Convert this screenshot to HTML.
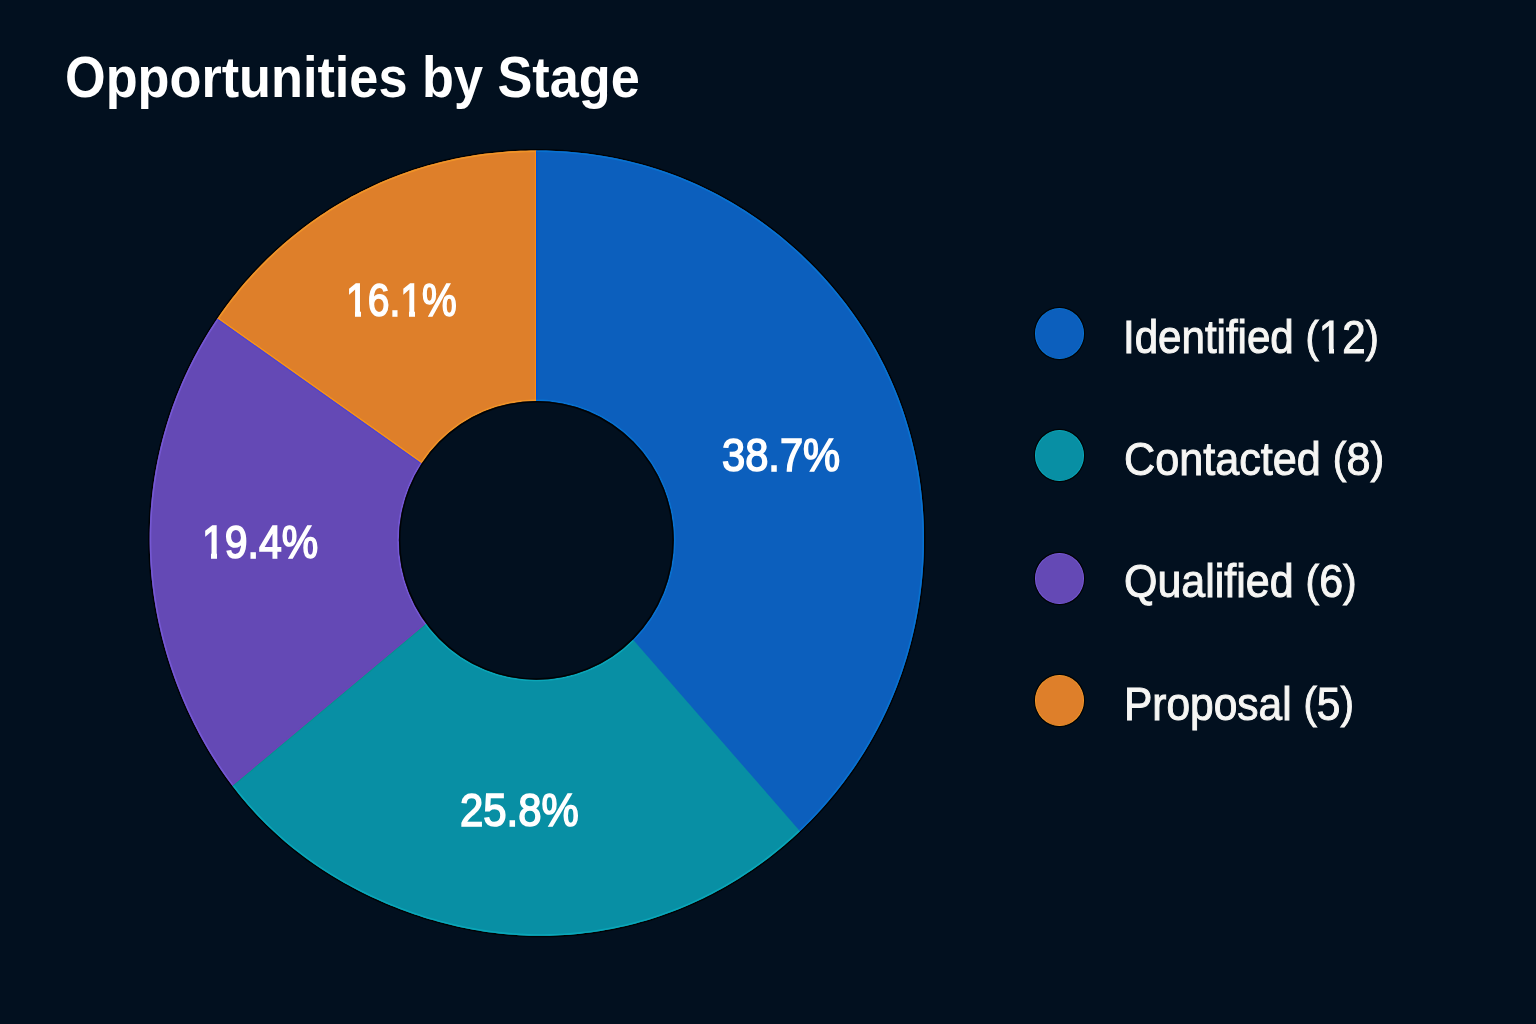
<!DOCTYPE html>
<html>
<head>
<meta charset="utf-8">
<title>Opportunities by Stage</title>
<style>
html,body{margin:0;padding:0;}
body{width:1536px;height:1024px;overflow:hidden;background:#02101f;position:relative;font-family:"Liberation Sans",sans-serif;}
svg{position:absolute;left:0;top:0;}
.t{position:absolute;white-space:nowrap;color:#fff;line-height:1;transform-origin:0 0;text-shadow:0 0 1.2px rgba(0,0,0,0.45);}
.b{font-weight:bold;}
.pct{-webkit-text-stroke:1.6px #fff;}
.leg{color:#f6f6f4;-webkit-text-stroke:1.0px #f6f6f4;}
.dot{position:absolute;border-radius:50%;box-sizing:border-box;}
.one{display:inline-block;-webkit-mask-image:linear-gradient(to bottom,#000 72.3%,transparent 72.3%),linear-gradient(to right,transparent 41.3%,#000 41.3%,#000 67.2%,transparent 67.2%);mask-image:linear-gradient(to bottom,#000 72.3%,transparent 72.3%),linear-gradient(to right,transparent 41.3%,#000 41.3%,#000 67.2%,transparent 67.2%);}
.par{display:inline-block;font-size:0.95em;position:relative;top:-1.5px;}
.onep{display:inline-block;-webkit-mask-image:linear-gradient(to bottom,#000 74.3%,transparent 74.3%),linear-gradient(to right,transparent 40.2%,#000 40.2%,#000 66.3%,transparent 66.3%);mask-image:linear-gradient(to bottom,#000 74.3%,transparent 74.3%),linear-gradient(to right,transparent 40.2%,#000 40.2%,#000 66.3%,transparent 66.3%);}
.oner{display:inline-block;-webkit-mask-image:linear-gradient(to bottom,#000 75.3%,transparent 75.3%),linear-gradient(to right,transparent 41.6%,#000 41.6%,#000 64.8%,transparent 64.8%);mask-image:linear-gradient(to bottom,#000 75.3%,transparent 75.3%),linear-gradient(to right,transparent 41.6%,#000 41.6%,#000 64.8%,transparent 64.8%);}
</style>
</head>
<body>
<svg width="1536" height="1024" viewBox="0 0 1536 1024">
 <polygon fill="none" stroke="#000000" stroke-width="3" stroke-opacity="0.85" points="536.85,150.50 541.92,150.53 546.99,150.63 552.06,150.79 557.12,151.01 562.19,151.29 567.25,151.64 572.30,152.06 577.35,152.53 582.40,153.07 587.43,153.68 592.46,154.35 597.49,155.08 602.50,155.88 607.50,156.74 612.49,157.67 617.47,158.67 622.44,159.72 627.40,160.85 632.34,162.04 637.26,163.30 642.17,164.62 647.06,166.01 651.94,167.46 656.79,168.98 661.63,170.56 666.44,172.21 671.23,173.93 676.00,175.71 680.75,177.56 685.47,179.47 690.17,181.45 694.83,183.49 699.47,185.60 704.09,187.77 708.67,190.00 713.22,192.30 717.74,194.66 722.24,197.08 726.69,199.56 731.12,202.10 735.51,204.70 739.87,207.36 744.19,210.08 748.48,212.85 752.73,215.69 756.94,218.58 761.11,221.52 765.25,224.52 769.35,227.58 773.40,230.69 777.42,233.85 781.40,237.07 785.33,240.33 789.23,243.65 793.08,247.02 796.88,250.44 800.65,253.91 804.37,257.43 808.04,260.99 811.67,264.61 815.26,268.27 818.80,271.97 822.29,275.72 825.73,279.52 829.13,283.36 832.48,287.25 835.77,291.18 839.02,295.15 842.22,299.17 845.36,303.23 848.45,307.33 851.49,311.47 854.47,315.66 857.40,319.88 860.27,324.14 863.08,328.44 865.84,332.78 868.54,337.16 871.19,341.57 873.77,346.02 876.29,350.50 878.75,355.02 881.16,359.57 883.50,364.16 885.77,368.78 887.99,373.42 890.14,378.10 892.22,382.81 894.24,387.55 896.20,392.32 898.08,397.11 899.91,401.93 901.66,406.77 903.35,411.64 904.97,416.53 906.53,421.44 908.02,426.37 909.44,431.32 910.79,436.29 912.08,441.28 913.30,446.28 914.46,451.30 915.54,456.33 916.56,461.38 917.52,466.44 918.41,471.51 919.23,476.59 919.99,481.68 920.68,486.78 921.30,491.89 921.86,497.00 922.36,502.12 922.79,507.25 923.15,512.38 923.46,517.51 923.69,522.65 923.86,527.78 923.97,532.92 924.02,538.06 924.00,543.20 923.92,548.34 923.78,553.47 923.57,558.60 923.30,563.73 922.97,568.86 922.57,573.98 922.11,579.09 921.59,584.20 921.00,589.30 920.35,594.39 919.64,599.47 918.86,604.54 918.03,609.60 917.12,614.66 916.16,619.69 915.13,624.72 914.04,629.73 912.88,634.73 911.67,639.71 910.39,644.68 909.04,649.62 907.64,654.55 906.17,659.47 904.64,664.36 903.05,669.23 901.39,674.08 899.68,678.91 897.90,683.71 896.06,688.49 894.16,693.25 892.20,697.98 890.18,702.69 888.09,707.37 885.95,712.02 883.75,716.64 881.49,721.23 879.16,725.79 876.79,730.33 874.35,734.82 871.85,739.29 869.30,743.73 866.69,748.13 864.03,752.49 861.31,756.82 858.53,761.12 855.70,765.37 852.82,769.59 849.88,773.78 846.89,777.92 843.84,782.02 840.75,786.09 837.60,790.11 834.40,794.09 831.15,798.03 827.84,801.92 824.49,805.78 821.09,809.58 817.65,813.35 814.15,817.07 810.61,820.74 807.02,824.37 803.38,827.94 799.70,831.48 795.97,834.96 792.20,838.39 788.38,841.77 784.52,845.11 780.62,848.39 776.68,851.62 772.69,854.80 768.67,857.92 764.60,861.00 760.49,864.01 756.35,866.98 752.16,869.88 747.94,872.73 743.68,875.53 739.39,878.27 735.06,880.95 730.69,883.57 726.29,886.13 721.86,888.64 717.39,891.08 712.89,893.46 708.36,895.79 703.80,898.05 699.21,900.25 694.60,902.38 689.95,904.46 685.28,906.47 680.58,908.42 675.85,910.30 671.10,912.12 666.33,913.87 661.53,915.56 656.71,917.18 651.87,918.74 647.01,920.23 642.14,921.65 637.24,923.01 632.32,924.30 627.39,925.52 622.44,926.68 617.48,927.77 612.51,928.79 607.52,929.74 602.52,930.62 597.50,931.43 592.48,932.18 587.45,932.86 582.41,933.46 577.37,934.00 572.31,934.47 567.26,934.87 562.19,935.20 557.13,935.46 552.06,935.65 546.99,935.77 541.92,935.82 536.85,935.80 531.78,935.71 526.72,935.55 521.65,935.33 516.60,935.03 511.54,934.67 506.49,934.23 501.45,933.74 496.42,933.17 491.40,932.54 486.38,931.84 481.38,931.07 476.39,930.24 471.40,929.35 466.44,928.39 461.48,927.37 456.54,926.29 451.61,925.14 446.70,923.93 441.80,922.66 436.92,921.33 432.06,919.93 427.21,918.48 422.38,916.97 417.57,915.40 412.78,913.77 408.01,912.08 403.26,910.34 398.53,908.53 393.83,906.68 389.14,904.76 384.47,902.79 379.83,900.77 375.21,898.69 370.62,896.55 366.05,894.36 361.51,892.11 356.99,889.80 352.50,887.44 348.04,885.02 343.61,882.54 339.21,880.01 334.84,877.42 330.50,874.77 326.20,872.06 321.93,869.30 317.70,866.48 313.51,863.60 309.35,860.66 305.23,857.67 301.15,854.62 297.11,851.51 293.11,848.35 289.16,845.12 285.25,841.85 281.39,838.51 277.58,835.13 273.81,831.68 270.09,828.18 266.42,824.63 262.81,821.02 259.25,817.36 255.74,813.64 252.28,809.88 248.88,806.06 245.54,802.20 242.25,798.29 239.01,794.33 235.83,790.33 232.71,786.28 229.64,782.19 226.63,778.05 223.67,773.88 220.78,769.67 217.94,765.42 215.15,761.13 212.42,756.80 209.75,752.44 207.14,748.05 204.58,743.62 202.08,739.16 199.64,734.67 197.25,730.14 194.92,725.59 192.65,721.01 190.43,716.41 188.27,711.77 186.17,707.11 184.12,702.43 182.13,697.72 180.19,692.99 178.31,688.23 176.48,683.46 174.71,678.66 172.99,673.84 171.33,669.00 169.73,664.14 168.19,659.26 166.71,654.37 165.28,649.45 163.92,644.52 162.61,639.57 161.36,634.60 160.18,629.62 159.05,624.62 157.99,619.61 156.99,614.58 156.05,609.54 155.17,604.49 154.36,599.43 153.61,594.35 152.93,589.27 152.31,584.18 151.75,579.08 151.26,573.97 150.83,568.85 150.47,563.73 150.18,558.60 149.95,553.47 149.79,548.34 149.70,543.20 149.67,538.06 149.72,532.92 149.83,527.78 150.00,522.65 150.25,517.51 150.56,512.38 150.94,507.25 151.39,502.13 151.90,497.01 152.48,491.90 153.13,486.80 153.84,481.70 154.63,476.62 155.47,471.54 156.39,466.48 157.37,461.43 158.42,456.39 159.53,451.37 160.71,446.36 161.96,441.37 163.27,436.39 164.64,431.43 166.09,426.49 167.59,421.57 169.16,416.67 170.79,411.79 172.49,406.94 174.25,402.10 176.08,397.29 177.97,392.51 179.92,387.74 181.93,383.01 184.00,378.30 186.14,373.62 188.34,368.97 190.59,364.35 192.91,359.76 195.29,355.21 197.73,350.68 200.23,346.19 202.78,341.73 205.39,337.30 208.07,332.91 210.79,328.55 213.58,324.24 216.42,319.96 219.32,315.72 222.27,311.51 225.28,307.35 228.34,303.23 231.45,299.15 234.62,295.11 237.84,291.11 241.12,287.16 244.44,283.25 247.82,279.39 251.24,275.57 254.72,271.80 258.24,268.07 261.81,264.40 265.43,260.77 269.10,257.19 272.81,253.66 276.57,250.17 280.38,246.74 284.23,243.37 288.12,240.04 292.06,236.77 296.03,233.55 300.06,230.38 304.12,227.27 308.22,224.21 312.36,221.21 316.55,218.27 320.77,215.38 325.02,212.55 329.32,209.78 333.65,207.07 338.02,204.41 342.42,201.82 346.85,199.29 351.32,196.81 355.82,194.40 360.35,192.06 364.91,189.77 369.51,187.54 374.13,185.38 378.77,183.29 383.45,181.25 388.15,179.29 392.88,177.38 397.63,175.55 402.41,173.77 407.20,172.07 412.02,170.42 416.86,168.85 421.72,167.33 426.60,165.89 431.50,164.51 436.41,163.19 441.34,161.94 446.28,160.76 451.24,159.64 456.21,158.59 461.19,157.60 466.19,156.68 471.19,155.82 476.20,155.02 481.23,154.30 486.26,153.63 491.30,153.03 496.34,152.50 501.40,152.02 506.45,151.62 511.51,151.27 516.58,150.99 521.64,150.78 526.71,150.62 531.78,150.53"/>
 <polygon fill="#0c5fbd" points="535.55,476.35 535.55,150.50 540.66,150.52 545.76,150.60 550.87,150.75 555.97,150.95 561.08,151.23 566.17,151.56 571.27,151.97 576.36,152.43 581.44,152.96 586.51,153.56 591.58,154.22 596.64,154.95 601.70,155.75 606.74,156.61 611.77,157.53 616.79,158.52 621.79,159.58 626.79,160.71 631.76,161.90 636.73,163.16 641.67,164.48 646.60,165.87 651.52,167.33 656.41,168.86 661.28,170.45 666.13,172.10 670.96,173.83 675.77,175.62 680.55,177.48 685.30,179.40 690.04,181.39 694.74,183.45 699.41,185.57 704.06,187.76 708.68,190.01 713.26,192.32 717.82,194.70 722.34,197.14 726.83,199.64 731.29,202.20 735.71,204.82 740.10,207.50 744.45,210.24 748.77,213.04 753.05,215.90 757.29,218.82 761.49,221.79 765.65,224.82 769.77,227.90 773.86,231.04 777.90,234.23 781.90,237.48 785.86,240.78 789.77,244.13 793.65,247.53 797.48,250.98 801.26,254.48 805.00,258.04 808.70,261.64 812.34,265.28 815.95,268.98 819.50,272.72 823.01,276.51 826.47,280.35 829.88,284.23 833.24,288.15 836.55,292.12 839.81,296.13 843.01,300.19 846.17,304.29 849.27,308.43 852.31,312.62 855.30,316.84 858.23,321.11 861.11,325.41 863.93,329.76 866.69,334.14 869.39,338.56 872.03,343.02 874.62,347.51 877.14,352.04 879.60,356.60 882.00,361.20 884.33,365.83 886.60,370.49 888.81,375.19 890.95,379.91 893.02,384.67 895.03,389.45 896.97,394.26 898.85,399.10 900.66,403.97 902.39,408.86 904.07,413.77 905.67,418.71 907.21,423.66 908.68,428.64 910.08,433.64 911.41,438.65 912.68,443.68 913.87,448.73 915.00,453.79 916.07,458.87 917.06,463.96 917.99,469.06 918.85,474.18 919.64,479.30 920.37,484.43 921.03,489.58 921.62,494.72 922.15,499.88 922.61,505.04 923.01,510.21 923.34,515.38 923.60,520.55 923.80,525.72 923.94,530.90 924.01,536.08 924.01,541.25 923.96,546.43 923.84,551.60 923.65,556.77 923.40,561.94 923.09,567.11 922.71,572.26 922.27,577.42 921.76,582.56 921.19,587.70 920.56,592.84 919.86,597.96 919.10,603.07 918.27,608.17 917.38,613.26 916.42,618.34 915.41,623.41 914.32,628.46 913.17,633.50 911.96,638.52 910.69,643.53 909.35,648.52 907.95,653.49 906.48,658.44 904.96,663.37 903.36,668.28 901.71,673.17 899.99,678.04 898.21,682.89 896.37,687.71 894.46,692.50 892.50,697.27 890.47,702.02 888.38,706.73 886.23,711.42 884.02,716.08 881.74,720.71 879.41,725.31 877.02,729.88 874.57,734.42 872.07,738.92 869.50,743.39 866.88,747.82 864.20,752.22 861.46,756.59 858.67,760.92 855.82,765.21 852.91,769.46 849.95,773.67 846.94,777.85 843.87,781.98 840.75,786.07 837.58,790.13 834.36,794.14 831.08,798.10 827.76,802.03 824.38,805.91 820.95,809.74 817.48,813.53 813.95,817.27 810.38,820.97 806.76,824.62 803.09,828.22 799.38,831.78 583.42,584.04 536.35,540.35"/>
 <polygon fill="#088fa4" points="584.10,583.44 800.03,831.16 796.27,834.68 792.46,838.15 788.61,841.57 784.72,844.95 780.77,848.26 776.79,851.53 772.76,854.74 768.70,857.90 764.59,861.00 760.44,864.05 756.25,867.05 752.02,869.98 747.75,872.86 743.45,875.68 739.10,878.44 734.72,881.15 730.31,883.79 725.86,886.38 721.38,888.90 716.86,891.36 712.31,893.76 707.73,896.10 703.12,898.38 698.48,900.59 693.81,902.74 689.11,904.83 684.38,906.85 679.63,908.80 674.85,910.69 670.04,912.51 665.21,914.27 660.36,915.96 655.49,917.58 650.59,919.14 645.67,920.63 640.74,922.05 635.79,923.40 630.81,924.68 625.83,925.90 620.82,927.04 615.80,928.12 610.77,929.12 605.73,930.06 600.67,930.93 595.60,931.72 590.52,932.45 585.44,933.11 580.34,933.69 575.24,934.21 570.13,934.65 565.02,935.02 559.90,935.32 554.78,935.55 549.66,935.71 544.54,935.80 539.41,935.82 534.29,935.76 529.17,935.64 524.05,935.44 518.94,935.18 513.83,934.84 508.73,934.43 503.63,933.96 498.54,933.42 493.46,932.80 488.39,932.13 483.33,931.38 478.28,930.57 473.25,929.69 468.22,928.74 463.21,927.73 458.21,926.66 453.22,925.52 448.25,924.32 443.30,923.05 438.37,921.73 433.45,920.34 428.54,918.89 423.66,917.38 418.80,915.80 413.95,914.17 409.13,912.48 404.32,910.73 399.54,908.92 394.78,907.06 390.04,905.13 385.32,903.15 380.63,901.12 375.95,899.03 371.31,896.88 366.69,894.67 362.09,892.40 357.53,890.08 352.99,887.70 348.48,885.26 344.00,882.76 339.55,880.21 335.13,877.59 330.75,874.92 326.40,872.19 322.08,869.39 317.81,866.55 313.57,863.64 309.36,860.67 305.20,857.65 301.08,854.56 297.00,851.42 292.96,848.22 288.97,844.97 285.02,841.65 281.13,838.28 277.27,834.85 273.47,831.37 269.72,827.83 266.02,824.23 262.37,820.58 258.78,816.87 255.24,813.11 251.76,809.30 248.33,805.44 244.96,801.52 241.65,797.56 238.39,793.55 235.19,789.50 232.04,785.40 482.75,575.60 536.35,540.35"/>
 <polygon fill="#6449b5" points="483.33,576.30 232.59,786.12 229.48,781.96 226.42,777.77 223.43,773.53 220.49,769.25 217.62,764.93 214.80,760.57 212.04,756.18 209.34,751.75 206.69,747.28 204.11,742.78 201.59,738.25 199.12,733.69 196.71,729.09 194.36,724.47 192.07,719.81 189.83,715.13 187.66,710.42 185.54,705.68 183.48,700.92 181.47,696.14 179.52,691.33 177.63,686.49 175.80,681.64 174.02,676.76 172.31,671.86 170.65,666.94 169.05,662.01 167.51,657.05 166.03,652.07 164.62,647.07 163.26,642.06 161.96,637.02 160.73,631.97 159.56,626.91 158.45,621.83 157.41,616.74 156.43,611.63 155.52,606.51 154.67,601.37 153.88,596.23 153.16,591.08 152.51,585.91 151.92,580.74 151.40,575.55 150.95,570.36 150.57,565.17 150.25,559.97 150.00,554.76 149.82,549.55 149.71,544.34 149.67,539.13 149.70,533.91 149.80,528.70 149.97,523.48 150.21,518.27 150.51,513.06 150.89,507.86 151.34,502.66 151.85,497.47 152.44,492.28 153.09,487.10 153.81,481.93 154.60,476.77 155.46,471.62 156.39,466.48 157.39,461.36 158.45,456.24 159.58,451.15 160.78,446.07 162.05,441.00 163.39,435.95 164.79,430.92 166.26,425.91 167.80,420.92 169.40,415.95 171.07,411.00 172.80,406.08 174.60,401.18 176.46,396.30 178.39,391.45 180.39,386.62 182.44,381.83 184.57,377.06 186.75,372.32 189.00,367.61 191.31,362.93 193.68,358.28 196.11,353.67 198.61,349.08 201.16,344.54 203.78,340.02 206.45,335.55 209.19,331.11 211.98,326.70 214.83,322.34 217.75,317.99 482.94,506.06 536.35,540.35"/>
 <polygon fill="#de7f2a" points="482.42,506.80 217.25,318.74 220.21,314.43 223.25,310.14 226.35,305.90 229.50,301.70 232.70,297.54 235.97,293.43 239.28,289.36 242.65,285.34 246.08,281.36 249.56,277.44 253.09,273.56 256.67,269.72 260.30,265.94 263.98,262.21 267.71,258.53 271.49,254.90 275.32,251.32 279.20,247.80 283.12,244.32 287.09,240.91 291.11,237.55 295.17,234.24 299.27,230.99 303.42,227.80 307.61,224.66 311.84,221.59 316.11,218.57 320.43,215.61 324.78,212.71 329.17,209.87 333.60,207.10 338.06,204.39 342.57,201.73 347.10,199.15 351.67,196.62 356.28,194.16 360.92,191.77 365.59,189.44 370.29,187.17 375.02,184.97 379.78,182.84 384.57,180.78 389.38,178.78 394.23,176.86 399.09,174.99 403.98,173.20 408.90,171.48 413.84,169.82 418.79,168.24 423.77,166.72 428.77,165.27 433.78,163.89 438.82,162.58 443.86,161.33 448.93,160.15 454.00,159.05 459.10,158.01 464.20,157.04 469.31,156.13 474.44,155.30 479.57,154.53 484.72,153.83 489.87,153.20 495.03,152.63 500.19,152.13 505.36,151.70 510.54,151.33 515.71,151.04 520.90,150.80 526.08,150.64 531.26,150.54 536.45,150.50 536.45,476.35 536.35,540.35"/>
 <polyline fill="none" stroke="#0872d0" stroke-width="1.6" points="536.00,151.30 541.09,151.32 546.19,151.41 551.28,151.56 556.36,151.77 561.45,152.05 566.53,152.39 571.61,152.80 576.68,153.27 581.75,153.80 586.81,154.40 591.86,155.07 596.90,155.80 601.94,156.60 606.97,157.46 611.98,158.39 616.98,159.38 621.97,160.44 626.95,161.57 631.91,162.76 636.86,164.02 641.79,165.34 646.70,166.73 651.60,168.19 656.47,169.72 661.33,171.31 666.17,172.96 670.98,174.69 675.77,176.48 680.53,178.33 685.28,180.26 689.99,182.24 694.68,184.30 699.34,186.42 703.97,188.60 708.57,190.85 713.14,193.16 717.68,195.53 722.19,197.96 726.66,200.46 731.10,203.02 735.51,205.63 739.88,208.31 744.22,211.05 748.52,213.84 752.79,216.69 757.01,219.60 761.20,222.57 765.35,225.59 769.46,228.67 773.53,231.80 777.56,234.98 781.54,238.22 785.49,241.51 789.39,244.85 793.25,248.25 797.07,251.69 800.84,255.18 804.56,258.73 808.25,262.32 811.88,265.96 815.47,269.64 819.02,273.37 822.51,277.15 825.96,280.98 829.36,284.85 832.71,288.76 836.01,292.72 839.25,296.72 842.45,300.77 845.59,304.86 848.68,308.99 851.71,313.16 854.69,317.37 857.62,321.62 860.48,325.92 863.29,330.25 866.05,334.62 868.74,339.03 871.37,343.47 873.95,347.95 876.46,352.47 878.91,357.02 881.30,361.60 883.63,366.22 885.89,370.87 888.09,375.55 890.23,380.26 892.29,385.00 894.30,389.77 896.23,394.57 898.10,399.39 899.90,404.24 901.64,409.12 903.31,414.02 904.91,418.94 906.44,423.88 907.90,428.84 909.30,433.82 910.63,438.82 911.89,443.84 913.08,448.87 914.21,453.92 915.27,458.98 916.26,464.06 917.19,469.14 918.05,474.24 918.84,479.35 919.57,484.47 920.23,489.60 920.82,494.73 921.35,499.87 921.81,505.01 922.20,510.16 922.53,515.32 922.80,520.48 923.00,525.64 923.14,530.80 923.21,535.96 923.21,541.12 923.16,546.28 923.04,551.44 922.86,556.59 922.61,561.75 922.30,566.89 921.92,572.04 921.49,577.18 920.98,582.31 920.42,587.43 919.79,592.55 919.09,597.66 918.34,602.75 917.51,607.84 916.63,612.92 915.68,617.98 914.67,623.03 913.59,628.07 912.45,633.10 911.24,638.10 909.98,643.10 908.64,648.07 907.25,653.03 905.79,657.97 904.27,662.88 902.69,667.78 901.04,672.66 899.33,677.51 897.56,682.35 895.73,687.15 893.83,691.94 891.87,696.69 889.85,701.43 887.77,706.13 885.63,710.81 883.43,715.45 881.17,720.07 878.85,724.66 876.47,729.21 874.03,733.74 871.54,738.23 868.98,742.69 866.37,747.11 863.70,751.50 860.98,755.86 858.20,760.17 855.36,764.45 852.47,768.70 849.52,772.90 846.52,777.06 843.47,781.19 840.36,785.27 837.20,789.32 833.99,793.32 830.73,797.28 827.42,801.19 824.06,805.06 820.64,808.89 817.18,812.67 813.67,816.41 810.11,820.10 806.51,823.74 802.86,827.34 799.16,830.88"/>
 <line x1="536.60" y1="401.00" x2="536.60" y2="151.50" stroke="#0052d6" stroke-width="1.2"/>
 <polyline fill="none" stroke="#0aa6b8" stroke-width="1.6" points="799.16,830.88 795.41,834.39 791.61,837.85 787.77,841.25 783.88,844.61 779.95,847.91 775.98,851.16 771.96,854.36 767.90,857.50 763.80,860.59 759.67,863.62 755.49,866.60 751.27,869.52 747.01,872.39 742.72,875.20 738.39,877.95 734.03,880.64 729.62,883.27 725.19,885.84 720.72,888.35 716.22,890.80 711.68,893.19 707.11,895.52 702.52,897.78 697.89,899.98 693.23,902.12 688.55,904.20 683.84,906.21 679.10,908.15 674.33,910.03 669.54,911.84 664.73,913.59 659.90,915.27 655.04,916.89 650.16,918.44 645.26,919.92 640.34,921.33 635.40,922.67 630.45,923.95 625.48,925.16 620.49,926.30 615.49,927.37 610.47,928.37 605.44,929.30 600.40,930.16 595.35,930.95 590.29,931.67 585.22,932.33 580.15,932.91 575.06,933.42 569.97,933.86 564.88,934.23 559.78,934.53 554.68,934.76 549.57,934.92 544.47,935.00 539.36,935.02 534.26,934.96 529.15,934.84 524.06,934.64 518.96,934.38 513.87,934.04 508.78,933.64 503.71,933.16 498.64,932.62 493.57,932.01 488.52,931.34 483.48,930.59 478.44,929.78 473.42,928.91 468.42,927.97 463.42,926.96 458.44,925.89 453.47,924.76 448.52,923.56 443.58,922.30 438.66,920.98 433.76,919.60 428.88,918.15 424.01,916.65 419.16,915.08 414.33,913.46 409.53,911.77 404.74,910.03 399.97,908.23 395.22,906.37 390.50,904.46 385.80,902.49 381.12,900.46 376.46,898.38 371.83,896.24 367.23,894.04 362.65,891.79 358.09,889.47 353.57,887.10 349.07,884.67 344.61,882.19 340.17,879.64 335.77,877.04 331.40,874.38 327.06,871.66 322.76,868.88 318.50,866.05 314.27,863.15 310.08,860.20 305.93,857.19 301.82,854.12 297.75,850.99 293.73,847.81 289.74,844.57 285.81,841.27 281.92,837.91 278.08,834.50 274.28,831.03 270.54,827.51 266.85,823.93 263.21,820.29 259.63,816.60 256.10,812.86 252.62,809.06 249.20,805.22 245.84,801.32 242.53,797.38 239.28,793.39 236.08,789.35 232.95,785.27"/>
 <line x1="426.47" y1="624.07" x2="233.44" y2="785.60" stroke="#06928f" stroke-width="1.2"/>
 <polyline fill="none" stroke="#7558d4" stroke-width="1.6" points="232.95,785.27 229.85,781.13 226.82,776.94 223.84,772.72 220.92,768.45 218.06,764.15 215.26,759.80 212.51,755.42 209.82,751.01 207.20,746.56 204.63,742.07 202.11,737.55 199.66,733.00 197.27,728.43 194.93,723.82 192.65,719.18 190.43,714.51 188.26,709.82 186.15,705.10 184.10,700.35 182.11,695.58 180.17,690.79 178.29,685.98 176.47,681.14 174.70,676.28 172.99,671.40 171.34,666.50 169.75,661.58 168.22,656.64 166.75,651.68 165.34,646.70 163.99,641.70 162.70,636.69 161.48,631.66 160.31,626.61 159.21,621.55 158.17,616.48 157.20,611.39 156.29,606.29 155.44,601.17 154.66,596.05 153.95,590.91 153.30,585.77 152.71,580.61 152.20,575.45 151.75,570.28 151.36,565.11 151.05,559.92 150.80,554.74 150.62,549.55 150.52,544.36 150.47,539.16 150.50,533.97 150.60,528.77 150.77,523.58 151.00,518.39 151.31,513.20 151.68,508.01 152.12,502.83 152.64,497.66 153.22,492.49 153.86,487.33 154.58,482.18 155.37,477.04 156.22,471.91 157.15,466.79 158.14,461.69 159.19,456.59 160.32,451.51 161.51,446.45 162.77,441.40 164.10,436.37 165.50,431.36 166.96,426.37 168.48,421.40 170.08,416.45 171.74,411.52 173.46,406.61 175.25,401.73 177.10,396.87 179.02,392.03 181.00,387.22 183.05,382.44 185.16,377.69 187.33,372.97 189.56,368.27 191.86,363.61 194.22,358.98 196.64,354.38 199.12,349.81 201.66,345.28 204.26,340.78 206.92,336.32 209.64,331.89 212.42,327.50 215.25,323.15 218.15,318.84"/>
 <line x1="425.76" y1="623.10" x2="232.72" y2="784.64" stroke="#7040b8" stroke-width="1.2"/>
 <line x1="421.51" y1="463.78" x2="217.98" y2="319.44" stroke="#4a42d6" stroke-width="1.2"/>
 <polyline fill="none" stroke="#f09428" stroke-width="1.6" points="218.15,318.84 221.12,314.53 224.15,310.27 227.23,306.05 230.37,301.87 233.57,297.73 236.82,293.64 240.13,289.60 243.49,285.59 246.90,281.64 250.37,277.73 253.88,273.87 257.45,270.06 261.07,266.30 264.74,262.58 268.46,258.92 272.22,255.31 276.04,251.75 279.90,248.24 283.81,244.79 287.76,241.39 291.76,238.04 295.80,234.75 299.89,231.52 304.02,228.34 308.19,225.23 312.41,222.16 316.66,219.16 320.96,216.22 325.29,213.33 329.66,210.51 334.07,207.75 338.52,205.05 343.00,202.41 347.52,199.83 352.07,197.32 356.65,194.87 361.27,192.49 365.92,190.17 370.60,187.91 375.31,185.72 380.05,183.60 384.81,181.54 389.61,179.56 394.43,177.64 399.27,175.78 404.14,174.00 409.03,172.28 413.95,170.63 418.88,169.05 423.84,167.53 428.81,166.09 433.80,164.71 438.81,163.40 443.84,162.16 448.88,160.99 453.93,159.88 459.00,158.84 464.08,157.87 469.17,156.97 474.27,156.13 479.38,155.36 484.50,154.66 489.63,154.03 494.77,153.46 499.91,152.96 505.05,152.53 510.20,152.16 515.36,151.86 520.52,151.62 525.68,151.45 530.84,151.34 536.00,151.30"/>
 <line x1="422.17" y1="462.78" x2="218.65" y2="318.45" stroke="#f7941a" stroke-width="1.2"/>
 <line x1="535.40" y1="401.00" x2="535.40" y2="151.50" stroke="#fb8a12" stroke-width="1.2"/>
 <polyline fill="none" stroke="#0872d0" stroke-width="1.6" points="536.00,400.20 539.68,400.24 543.35,400.38 547.02,400.62 550.69,400.96 554.34,401.39 557.98,401.93 561.60,402.56 565.21,403.29 568.80,404.12 572.36,405.04 575.90,406.06 579.41,407.17 582.89,408.38 586.34,409.68 589.75,411.08 593.12,412.56 596.46,414.14 599.75,415.80 602.99,417.56 606.19,419.40 609.34,421.33 612.44,423.34 615.48,425.43 618.47,427.61 621.40,429.86 624.27,432.19 627.08,434.60 629.82,437.09 632.50,439.64 635.11,442.27 637.65,444.97 640.11,447.74 642.51,450.57 644.83,453.46 647.07,456.42 649.23,459.44 651.32,462.51 653.32,465.64 655.24,468.82 657.07,472.05 658.82,475.33 660.48,478.66 662.06,482.03 663.55,485.44 664.94,488.89 666.25,492.37 667.46,495.89 668.58,499.45 669.61,503.03 670.54,506.63 671.38,510.26 672.12,513.92 672.76,517.59 673.31,521.27 673.77,524.98 674.12,528.69 674.38,532.41 674.54,536.13 674.60,539.86 674.56,543.59 674.43,547.32 674.20,551.04 673.87,554.75 673.44,558.46 672.92,562.15 672.30,565.82 671.58,569.48 670.77,573.12 669.86,576.73 668.86,580.32 667.76,583.88 666.57,587.41 665.29,590.90 663.92,594.36 662.46,597.78 660.91,601.16 659.27,604.50 657.54,607.79 655.73,611.04 653.83,614.23 651.85,617.38 649.79,620.46 647.64,623.49 645.42,626.47 643.12,629.38 640.75,632.23 638.30,635.01 635.78,637.73 633.19,640.37"/>
 <polyline fill="none" stroke="#0aa6b8" stroke-width="1.6" points="633.19,640.37 630.52,642.95 627.79,645.46 625.00,647.90 622.13,650.26 619.21,652.54 616.23,654.74 613.20,656.85 610.10,658.89 606.96,660.84 603.77,662.71 600.52,664.49 597.24,666.18 593.90,667.78 590.53,669.29 587.12,670.71 583.68,672.03 580.19,673.27 576.68,674.40 573.14,675.45 569.58,676.39 565.99,677.24 562.38,677.99 558.75,678.65 555.10,679.21 551.44,679.66 547.77,680.02 544.09,680.28 540.41,680.44 536.72,680.50 533.04,680.46 529.35,680.32 525.67,680.08 522.00,679.74 518.34,679.31 514.69,678.77 511.06,678.14 507.45,677.40 503.85,676.57 500.28,675.65 496.73,674.62 493.22,673.50 489.73,672.29 486.27,670.98 482.86,669.58 479.48,668.09 476.14,666.51 472.84,664.84 469.59,663.08 466.38,661.23 463.23,659.29 460.13,657.27 457.08,655.17 454.09,652.99 451.15,650.73 448.28,648.38 445.47,645.96 442.72,643.47 440.05,640.90 437.43,638.26 434.89,635.56 432.43,632.78 430.03,629.94 427.71,627.03 425.47,624.06"/>
 <polyline fill="none" stroke="#7558d4" stroke-width="1.6" points="425.47,624.06 423.26,620.97 421.14,617.82 419.10,614.61 417.15,611.34 415.28,608.02 413.51,604.65 411.83,601.24 410.24,597.77 408.74,594.27 407.34,590.72 406.03,587.14 404.82,583.53 403.71,579.88 402.70,576.20 401.79,572.49 400.97,568.77 400.26,565.02 399.65,561.25 399.13,557.46 398.73,553.67 398.42,549.86 398.21,546.05 398.11,542.23 398.11,538.41 398.22,534.60 398.42,530.78 398.73,526.98 399.14,523.18 399.65,519.40 400.27,515.63 400.98,511.88 401.80,508.15 402.71,504.45 403.73,500.77 404.84,497.12 406.05,493.51 407.36,489.92 408.76,486.38 410.26,482.88 411.85,479.41 413.54,476.00 415.31,472.63 417.18,469.31 419.13,466.05 421.17,462.84"/>
 <polyline fill="none" stroke="#f09428" stroke-width="1.6" points="421.17,462.84 423.30,459.68 425.51,456.58 427.81,453.55 430.18,450.58 432.64,447.68 435.17,444.84 437.78,442.08 440.46,439.39 443.21,436.78 446.03,434.24 448.92,431.78 451.88,429.41 454.89,427.11 457.97,424.90 461.11,422.78 464.30,420.74 467.54,418.79 470.84,416.93 474.19,415.17 477.58,413.49 481.01,411.92 484.49,410.43 488.01,409.05 491.56,407.76 495.14,406.57 498.76,405.48 502.40,404.49 506.07,403.60 509.76,402.82 513.47,402.13 517.20,401.55 520.94,401.07 524.70,400.70 528.46,400.43 532.23,400.26 536.00,400.20"/>
 <ellipse cx="536.35" cy="540.35" rx="137.45" ry="139.35" fill="#02101f"/>
 <ellipse cx="536.35" cy="540.35" rx="136.7" ry="138.6" fill="none" stroke="#000000" stroke-width="1.5" stroke-opacity="0.85"/>
</svg>
<div class="t b" style="left:64.9px;top:48.75px;font-size:57px;transform:scaleX(0.9166);">Opportunities by Stage</div>
<div class="t pct" style="left:345.8px;top:276.7px;font-size:46px;transform:scaleX(0.8495);"><span class="onep">1</span>6.<span class="onep">1</span>%</div>
<div class="t pct" style="left:722.0px;top:431.7px;font-size:46px;transform:scaleX(0.9059);">38.7%</div>
<div class="t pct" style="left:202.0px;top:519.4px;font-size:46px;transform:scaleX(0.891);"><span class="onep">1</span>9.4%</div>
<div class="t pct" style="left:459.7px;top:786.7px;font-size:46px;transform:scaleX(0.9107);">25.8%</div>
<div class="t leg" style="left:1122.9px;top:314.3px;font-size:46px;transform:scaleX(0.9146);">Identified <span class="par">(</span><span class="oner">1</span>2<span class="par">)</span></div>
<div class="t leg" style="left:1124.1px;top:435.8px;font-size:46px;transform:scaleX(0.9383);">Contacted <span class="par">(</span>8<span class="par">)</span></div>
<div class="t leg" style="left:1123.8px;top:558.05px;font-size:46px;transform:scaleX(0.9342);">Qualified <span class="par">(</span>6<span class="par">)</span></div>
<div class="t leg" style="left:1124.3px;top:680.7px;font-size:46px;transform:scaleX(0.9231);">Proposal <span class="par">(</span>5<span class="par">)</span></div>
<div class="dot" style="left:1034.6px;top:307.7px;width:49.5px;height:51.2px;background:#0c5fbd;border:1.0px solid #0872d0;box-shadow:0 0 0 1.2px rgba(0,0,0,0.8)"></div>
<div class="dot" style="left:1034.6px;top:429.6px;width:49.5px;height:51.2px;background:#088fa4;border:1.0px solid #0aa6b8;box-shadow:0 0 0 1.2px rgba(0,0,0,0.8)"></div>
<div class="dot" style="left:1034.6px;top:552.6px;width:49.5px;height:51.2px;background:#6449b5;border:1.0px solid #7558d4;box-shadow:0 0 0 1.2px rgba(0,0,0,0.8)"></div>
<div class="dot" style="left:1034.6px;top:674.9px;width:49.5px;height:51.2px;background:#de7f2a;border:1.0px solid #f09428;box-shadow:0 0 0 1.2px rgba(0,0,0,0.8)"></div>
</body>
</html>
